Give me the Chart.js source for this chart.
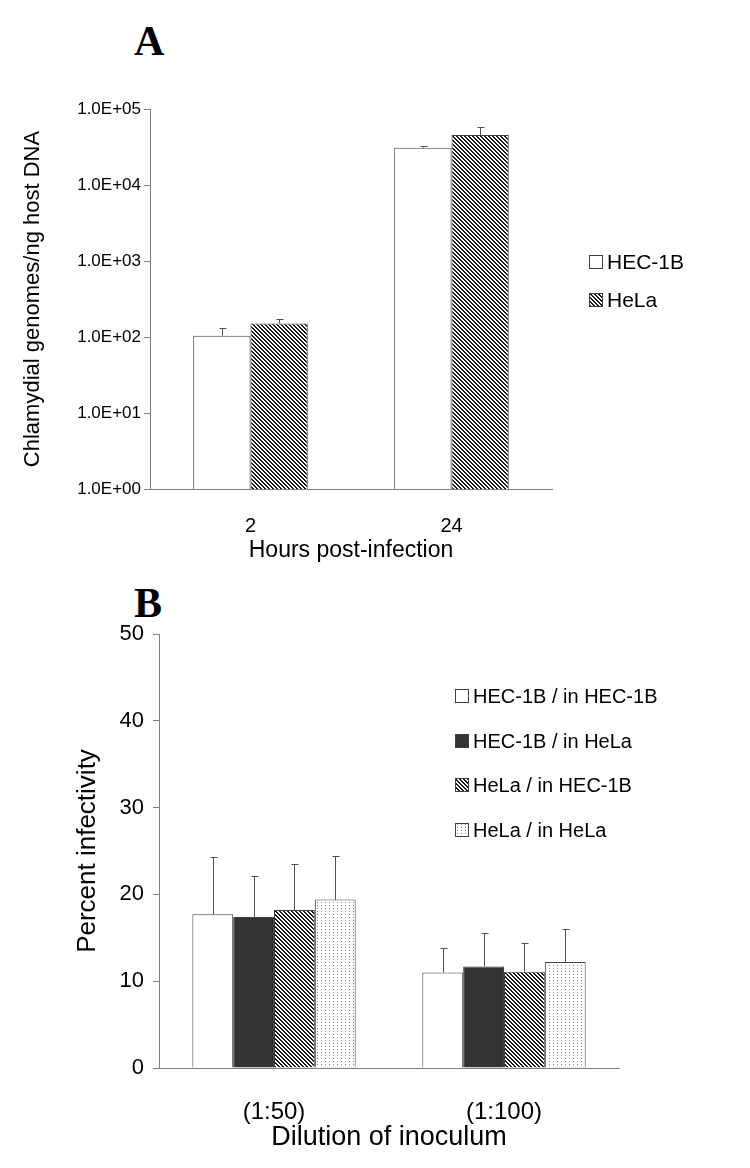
<!DOCTYPE html>
<html>
<head>
<meta charset="utf-8">
<script src="https://cdn.jsdelivr.net/npm/chart.js@4.4.0/dist/chart.umd.min.js"></script>
<style>
body{margin:0;background:#fff;width:750px;height:1168px;position:relative;overflow:hidden;font-family:"Liberation Sans",Arial,sans-serif}
.panel{position:absolute;font-family:"Liberation Serif","Times New Roman",serif;font-weight:bold;font-size:42px;line-height:42px;color:#000}
#wrapA{position:absolute;left:0;top:0;width:750px;height:580px}
#wrapB{position:absolute;left:0;top:580px;width:750px;height:588px}
</style>
</head>
<body>
<div class="panel" style="left:134px;top:20px">A</div>
<div class="panel" style="left:134px;top:582px">B</div>
<div id="wrapA"><canvas id="chartA"></canvas></div>
<div id="wrapB"><canvas id="chartB"></canvas></div>
<script>
// Panel A - genomes per ng host DNA (log scale)
var hoursLabels = ['2', '24'];
var hecGenomes = [104, 31000];
var hecGenomesErr = [130, 32900];
var helaGenomes = [150, 45500];
var helaGenomesErr = [171, 57400];
var logTicks = [1, 10, 100, 1000, 10000, 100000];
var logTickLabels = ['1.0E+00', '1.0E+01', '1.0E+02', '1.0E+03', '1.0E+04', '1.0E+05'];

// Panel B - percent infectivity
var dilutionLabels = ['(1:50)', '(1:100)'];
var hecInHec = [17.7, 11.0];
var hecInHecErr = [24.3, 13.8];
var hecInHela = [17.4, 11.7];
var hecInHelaErr = [22.1, 15.6];
var helaInHec = [18.2, 11.1];
var helaInHecErr = [23.5, 14.4];
var helaInHela = [19.4, 12.2];
var helaInHelaErr = [24.4, 16.0];
var percentTicks = [0, 10, 20, 30, 40, 50];

var FONT = '"Liberation Sans", Arial, sans-serif';
var LINE = '#404040';
var AXIS = '#808080';

// small canvas tiles used as fill patterns
function makePattern(w, h, draw) {
    var c = document.createElement('canvas');
    c.width = w; c.height = h;
    var g = c.getContext('2d');
    g.fillStyle = '#fff';
    g.fillRect(0, 0, w, h);
    draw(g);
    return g.createPattern(c, 'repeat');
}
var hatch = makePattern(4, 4, function(g) {
    g.fillStyle = '#1a1a1a';
    for (var i = 0; i < 4; i++) {
        g.fillRect(i, i, 1, 1);
        g.fillRect((i + 1) % 4, i, 1, 1);
    }
});
var dots = makePattern(4, 3, function(g) {
    g.fillStyle = '#8a8a8a';
    g.fillRect(1, 1, 1, 1);
});

// error bars (upper only)
var errorBars = {
    id: 'errorBars',
    afterDatasetsDraw: function(chart) {
        var ctx = chart.ctx, yScale = chart.scales.y;
        ctx.save();
        ctx.strokeStyle = '#505050';
        ctx.lineWidth = 1;
        chart.data.datasets.forEach(function(ds, i) {
            var meta = chart.getDatasetMeta(i);
            meta.data.forEach(function(bar, j) {
                var top = Math.round(yScale.getPixelForValue(ds.errTop[j])) + 0.5;
                var x = Math.round(bar.x) + 0.5;
                ctx.beginPath();
                ctx.moveTo(x, bar.y);
                ctx.lineTo(x, top);
                ctx.moveTo(x - 3, top);
                ctx.lineTo(x + 4, top);
                ctx.stroke();
            });
        });
        ctx.restore();
    }
};

// legend drawn at a fixed place
var boxLegend = {
    id: 'boxLegend',
    afterDraw: function(chart, args, opts) {
        var ctx = chart.ctx;
        ctx.save();
        ctx.font = opts.fontSize + 'px ' + FONT;
        ctx.textBaseline = 'middle';
        chart.data.datasets.forEach(function(ds, i) {
            var y = Math.round(opts.y + i * opts.gap);
            var top = y - Math.round(opts.box / 2);
            ctx.fillStyle = ds.backgroundColor;
            ctx.fillRect(opts.x, top, opts.box, opts.box);
            ctx.strokeStyle = LINE;
            ctx.lineWidth = 1;
            ctx.strokeRect(opts.x + 0.5, top + 0.5, opts.box - 1, opts.box - 1);
            ctx.fillStyle = '#000';
            ctx.fillText(ds.label, opts.x + opts.box + opts.textGap, y + 1);
        });
        ctx.restore();
    }
};

function barSet(label, data, err, fill) {
    return {
        label: label,
        data: data,
        errTop: err,
        backgroundColor: fill,
        borderColor: LINE,
        borderWidth: 1,
        borderSkipped: 'bottom'
    };
}

var chartA = new Chart(document.getElementById('chartA'), {
    type: 'bar',
    data: {
        labels: hoursLabels,
        datasets: [
            barSet('HEC-1B', hecGenomes, hecGenomesErr, '#ffffff'),
            barSet('HeLa', helaGenomes, helaGenomesErr, hatch)
        ]
    },
    options: {
        responsive: true,
        maintainAspectRatio: false,
        animation: false,
        layout: { padding: { left: 0, right: 198, top: 109, bottom: 0 } },
        datasets: { bar: { barPercentage: 1, categoryPercentage: 0.57 } },
        plugins: {
            legend: { display: false },
            tooltip: { enabled: false },
            boxLegend: { x: 589, y: 262, gap: 38, box: 14, textGap: 4, fontSize: 21 }
        },
        scales: {
            x: {
                grid: { display: false, drawTicks: false },
                border: { display: true, color: AXIS, width: 1 },
                ticks: { color: '#000', font: { family: FONT, size: 20 }, padding: 25 },
                title: { display: true, text: 'Hours post-infection', color: '#000',
                         font: { family: FONT, size: 23 }, padding: { top: 0, bottom: 16 } },
                afterFit: function(s) { s.height = 91; s.paddingLeft = 0; s.paddingRight = 0; }
            },
            y: {
                type: 'logarithmic',
                min: 1,
                max: 100000,
                afterBuildTicks: function(s) {
                    s.ticks = logTicks.map(function(v) { return { value: v }; });
                },
                grid: { display: true, drawOnChartArea: false, drawTicks: true, tickLength: 6, color: AXIS },
                border: { display: true, color: AXIS, width: 1 },
                ticks: {
                    color: '#000',
                    font: { family: FONT, size: 17 },
                    padding: 3,
                    callback: function(v) { return logTickLabels[logTicks.indexOf(v)]; }
                },
                title: { display: true, text: 'Chlamydial genomes/ng host DNA', color: '#000',
                         font: { family: FONT, size: 22 }, padding: { top: 20, bottom: 0 } },
                afterFit: function(s) { s.width = 150; s.paddingTop = 0; s.paddingBottom = 0; }
            }
        }
    },
    plugins: [errorBars, boxLegend]
});

var chartB = new Chart(document.getElementById('chartB'), {
    type: 'bar',
    data: {
        labels: dilutionLabels,
        datasets: [
            barSet('HEC-1B / in HEC-1B', hecInHec, hecInHecErr, '#ffffff'),
            barSet('HEC-1B / in HeLa', hecInHela, hecInHelaErr, '#333333'),
            barSet('HeLa / in HEC-1B', helaInHec, helaInHecErr, hatch),
            barSet('HeLa / in HeLa', helaInHela, helaInHelaErr, dots)
        ]
    },
    options: {
        responsive: true,
        maintainAspectRatio: false,
        animation: false,
        layout: { padding: { left: 0, right: 131, top: 54, bottom: 0 } },
        datasets: { bar: { barPercentage: 1, categoryPercentage: 0.71 } },
        plugins: {
            legend: { display: false },
            tooltip: { enabled: false },
            boxLegend: { x: 455, y: 116, gap: 44.7, box: 14, textGap: 4, fontSize: 20 }
        },
        scales: {
            x: {
                grid: { display: false, drawTicks: false },
                border: { display: true, color: AXIS, width: 1 },
                ticks: { color: '#000', font: { family: FONT, size: 24 }, padding: 30 },
                title: { display: true, text: 'Dilution of inoculum', color: '#000',
                         font: { family: FONT, size: 27 }, padding: { top: 0, bottom: 14 } },
                afterFit: function(s) { s.height = 100; s.paddingLeft = 0; s.paddingRight = 0; }
            },
            y: {
                min: 0,
                max: 50,
                afterBuildTicks: function(s) {
                    s.ticks = percentTicks.map(function(v) { return { value: v }; });
                },
                grid: { display: true, drawOnChartArea: false, drawTicks: true, tickLength: 6, color: AXIS },
                border: { display: true, color: AXIS, width: 1 },
                ticks: { color: '#000', font: { family: FONT, size: 22 }, padding: 9 },
                title: { display: true, text: 'Percent infectivity', color: '#000',
                         font: { family: FONT, size: 26 }, padding: { top: 72, bottom: 0 } },
                afterFit: function(s) { s.width = 159; s.paddingTop = 0; s.paddingBottom = 0; }
            }
        }
    },
    plugins: [errorBars, boxLegend]
});
</script>
</body>
</html>
